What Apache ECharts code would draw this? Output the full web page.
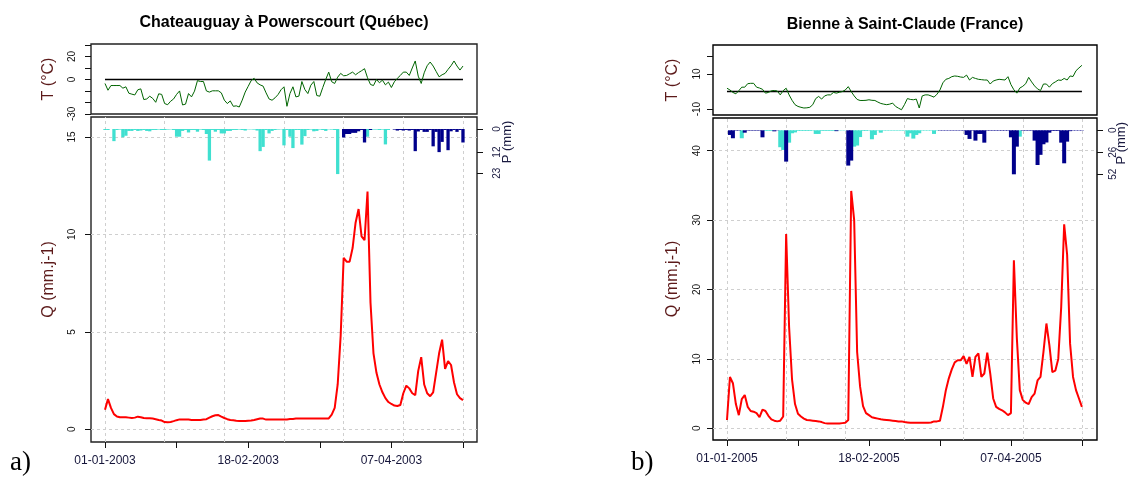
<!DOCTYPE html>
<html><head><meta charset="utf-8">
<script src="https://cdn.jsdelivr.net/npm/echarts@6/dist/echarts.min.js"></script>
<style>html,body{margin:0;padding:0;background:#fff}#c{width:1136px;height:482px}</style>
</head><body><div id="c"></div>
<script>
// ---------- DATA ----------
const titleA = 'Chateauguay à Powerscourt (Québec)';
const titleB = 'Bienne à Saint-Claude (France)';
const tickDays = [0, 24, 48, 72, 96, 120];
const gridDays = [0, 20, 40, 60, 80, 100, 120];
const labelDays = [0, 48, 96];
const dateLabelsA = ['01-01-2003', '18-02-2003', '07-04-2003'];
const dateLabelsB = ['01-01-2005', '18-02-2005', '07-04-2005'];
const tTicksA = [-30, -20, -10, 0, 10, 20, 30];
const tLabelsA = [-30, 0, 20];
const tTicksB = [-10, 10, 20];
const tLabelsB = [-10, 10];
const qTicksA = [0, 5, 10, 15];
const qTicksB = [0, 10, 20, 30, 40];
const pTicksA = [0, 12, 23];
const pTicksB = [0, 26, 52];

const tempA = [-3.5,-9.4,-5.3,-5.3,-5.3,-5.3,-7.6,-6.4,-12,-12.8,
 -13.5,-9,-8.2,-17.5,-17,-14.6,-16.5,-19.9,-12.5,-13,
 -21,-22,-19,-17,-13,-10,-22.2,-21.5,-12.3,-15.2,
 -10.2,-1,-1.8,-1.8,-10,-11,-9.9,-9.9,-9.9,-11.7,
 -18,-21,-18.7,-23.4,-23,-24,-18,-11,-6,-1,
 1,-3,-4.7,-5.8,-11.7,-17,-18.1,-16,-13.2,-9,
 -6.4,-23.4,-12.3,-6.4,-15.2,-14.5,-1.8,-8.8,-12.3,-5,
 -1.8,-14,-14.6,-7,0,6.4,-2,-3.5,2,5.3,
 3.2,3.5,5,6.4,4.1,6,7.6,9.4,1.5,-4.4,
 -5.3,0,-2.9,-0.6,-4.7,-2.3,-7,-2,1,3.5,
 6.4,6.4,3.5,10,16.1,2.9,-3.5,5.8,12,15.2,
 11.7,7,2.3,4.1,5.3,8.8,12,16.1,11.7,8.2,
 11.7];
const qA = [1.0,1.55,1.1,0.78,0.66,0.62,0.62,0.62,0.6,0.58,
 0.6,0.65,0.62,0.58,0.57,0.57,0.55,0.52,0.48,0.45,
 0.37,0.36,0.38,0.42,0.47,0.51,0.51,0.51,0.5,0.48,
 0.48,0.48,0.48,0.5,0.52,0.6,0.67,0.72,0.73,0.65,
 0.58,0.52,0.48,0.47,0.44,0.43,0.43,0.43,0.44,0.45,
 0.48,0.52,0.56,0.55,0.5,0.5,0.5,0.5,0.5,0.51,
 0.51,0.51,0.53,0.53,0.55,0.55,0.55,0.55,0.55,0.55,
 0.55,0.55,0.55,0.55,0.55,0.56,0.75,1.1,2.3,4.8,
 8.8,8.6,8.6,9.3,10.6,11.3,9.9,9.7,12.2,6.5,
 3.9,2.9,2.3,1.9,1.6,1.4,1.3,1.22,1.2,1.25,
 1.85,2.24,2.1,1.85,1.76,3.0,3.7,2.3,1.85,1.7,
 1.9,2.9,3.9,4.6,3.1,3.5,3.3,2.4,1.8,1.6,
 1.5];
const snowA = [0.5,0.5,0,6.3,0.5,0.3,4.3,3.5,1,1,
 0.5,1,0.8,0.5,1,1.2,0.5,0.5,0.3,0.5,
 0.5,0.3,0.2,0.5,4,4,1,0.5,1.8,0.5,
 0.5,1.4,0.3,0.5,2.6,16.4,0.5,1.4,0.5,2.3,
 2.3,1,1,0.5,0.5,0.3,0.5,0.8,0.2,0.2,
 0.3,0.8,11.5,9.3,0.5,2.3,1,0.5,0.3,0.2,
 8.5,0.5,4,9.9,0.5,0.5,8.1,3.7,0.5,0.3,
 1.2,1,0.3,0.5,1,0.2,0.3,0.5,23.4,0,
 0,0,0,0,0,0,0,0,4,0.5,
 0.3,0.3,0.5,0.3,8,0.5,0,0,0,0,
 0,0,0,0,0,0,0,0,0,0,
 0,0,0,0,0,0,0,0,0,0,
 0];
const rainA = [0,0,0,0,0,0,0,0,0,0,
 0,0,0,0,0,0,0,0,0,0,
 0,0,0,0,0,0,0,0,0,0,
 0,0,0,0,0,0,0,0,0,0,
 0,0,0,0,0,0,0,0,0,0,
 0,0,0,0,0,0,0,0,0,0,
 0,0,0,0,0,0,0,0,0,0,
 0,0,0,0,0,0,0,0,0,0,
 4.4,2.6,2.6,2,2,1.2,0.5,7,0,0.5,
 0,0,0,0,0,0,0,0.3,0.8,0.5,
 0.8,0.5,0.8,0.5,11.5,1.3,0.5,1.5,1.5,0.5,
 9,1.5,12,6.7,0.5,11,1.2,0.5,1.5,0.5,
 7];

const tempB = [1.9,0.9,-0.5,-1.3,0.5,2.5,2.5,4.5,4.7,4.7,
 2.5,2,1.3,-0.9,-0.5,0.4,0.6,0.3,-1.9,0.5,
 1.9,-1.9,-5,-7.5,-8.5,-9,-9.4,-9.3,-9,-7.5,
 -4,-2.8,-4.3,-2.5,-1.9,-1.9,-0.5,-0.9,-0.4,0,
 0.9,2.8,0,-2.5,-4.5,-5.1,-5.1,-5,-4.7,-5,
 -5.1,-6,-6.8,-7.2,-7.5,-7.2,-6.6,-8.5,-9.5,-10.4,
 -7.5,-4,-4.5,-4.7,-4.3,-9.4,-2.5,-1.9,-1.9,-2.5,
 -3.2,-1.5,0.9,5,7,7.5,8.5,8.9,8.7,8.3,
 8.1,9.4,6.6,8.1,7.5,7,6.8,6.6,6.6,4.3,
 6,6.6,7,6.8,6.6,8.5,4,1,-0.9,2,
 3,4.5,8.1,5.5,3.2,1.5,0.6,4.3,4.3,2.5,
 4.5,5.5,6.6,6.4,7.5,6.6,8.9,8.6,11.9,13.5,
 15];
const qB = [1.2,7.4,6.5,3.5,1.9,4.2,4.8,3.1,2.5,2.4,
 2.2,1.6,2.7,2.5,1.8,1.3,1.1,1.0,1.1,1.7,
 28,14.6,7,3.5,2.1,1.7,1.4,1.2,1.15,1.1,
 1.05,1.0,0.9,0.75,0.7,0.7,0.7,0.7,0.7,0.75,
 0.8,1.2,34.2,30,11,6,3.2,2.2,1.9,1.6,
 1.5,1.4,1.3,1.25,1.2,1.15,1.1,1.05,1.0,1.0,
 0.9,0.85,0.8,0.8,0.8,0.8,0.8,0.8,0.8,0.85,
 1.0,1.0,1.1,3.1,5.5,7.2,8.5,9.5,9.8,9.8,
 10.4,9.3,10.3,7.4,10.3,10.8,7.4,7.9,10.9,7.9,
 4.3,3.1,2.8,2.6,2.3,1.9,2.2,24.2,13,5.5,
 4.1,3.7,3.5,4.5,5,6.9,7.4,11,15.1,12,
 8.1,8.3,10,17.5,29.4,25,12.2,7.4,5.5,4.3,
 3.1];
const rainB = [0,5.5,9.4,0.5,0.5,0,2.8,0.5,0.5,0.5,
 0.5,0.5,8.3,0,0,0,1.2,0.3,0,0,
 37,0,0,0,0,0,0,0,0,0,
 0,0,0,0,0,0,0,1,0,0,
 0,41.7,35.8,0,0,0,0,0,0,0,
 0,0,0,0,0,0,0,0,0,0,
 0,0,0,0,0,0,0,0,0,0,
 0,0,0.4,0.4,0.4,0.4,0.4,0.4,0.4,0.4,
 0.5,5.5,10.2,0.5,12.2,4.3,4.3,14.6,0.5,0.5,
 0.5,0.5,0.5,0.5,0.5,0.5,8.3,52,19.3,0,
 0.5,0.5,0.5,0.5,12.2,41,29,16.5,14.4,2.8,
 0.8,0.8,0.8,14.6,39,13.4,1,0.4,0.4,0.4,
 0.4];
const snowB = [0,0,0,0,0,9.4,0,0,0,0,
 0,0,0,0.8,0.8,0.8,0,0,20,23.2,
 0,14.6,3.5,2.5,0.8,0.8,0.8,0.8,0.8,0.5,
 4.3,4.3,0.8,0.8,0.8,0.8,0.8,0.3,0.3,0.3,
 0.3,0,0,19.3,18,8,0.8,0.8,0.5,10.6,
 5.5,0.5,2.8,0.5,0.5,0.5,0.5,0.5,0.5,0.5,
 0.5,7.5,3.5,9.8,5.5,3.5,0.5,0.5,0.5,0.5,
 4.3,0.5,0,0,0,0,0,0,0,0,
 0,0,0,0,0,0,0,0,0,0,
 0,0,0,0,0,0,0,0,0,7.5,
 0,0,0,0,0,0,0,0,0,0,
 0,0,0,0,0,0,0,0,0,0,
 0];

// ---------- BUILD ----------
const FONT = '"Liberation Sans", Arial, sans-serif';
const zip = arr => arr.map((v, i) => [i, v]);

const panels = [
  { title: titleA, titleX: 279, titleY: 10, letter: 'a)', letterX: 10,
    left: 91, width: 386, tTop: 44, tH: 70, qTop: 117, qH: 325, pTop: 129, pH: 44.3,
    xMin: -4.69, xMax: 124.7, tMin: -30.1, tMax: 30.9, tTicks: tTicksA, tLabels: tLabelsA,
    qMin: -0.65, qMax: 16.02, qTicks: qTicksA, pMax: 23, pTicks: pTicksA,
    temp: tempA, q: qA, rain: rainA, snow: snowA, dates: dateLabelsA, barW: 3.3,
    lblMargin: 14, nameGap: 34, pLblMargin: 15, pNameX: 507, border: '#222' },
  { title: titleB, titleX: 900, titleY: 12, letter: 'b)', letterX: 631,
    left: 713, width: 384, tTop: 45, tH: 70, qTop: 118, qH: 322, pTop: 130.3, pH: 44,
    xMin: -4.73, xMax: 125.1, tMin: -13.4, tMax: 26.6, tTicks: tTicksB, tLabels: tLabelsB,
    qMin: -1.68, qMax: 44.7, qTicks: qTicksB, pMax: 52, pTicks: pTicksB,
    temp: tempB, q: qB, rain: rainB, snow: snowB, dates: dateLabelsB, barW: 4,
    lblMargin: 11, nameGap: 32, pLblMargin: 11, pNameX: 1121, border: '#000' }
];

const grid = [], xAxis = [], yAxis = [], series = [], title = [], graphic = [];
const tickCommon = { show: true, inside: false, length: 6, lineStyle: { color: '#111', width: 1 } };
const lblCommon = { rotate: 90, fontSize: 10, fontFamily: FONT, color: '#111' };
const nameStyle = { fontSize: 16, fontFamily: FONT, color: '#5c1a1a' };
const noLine = { show: false, onZero: false };

panels.forEach((p, k) => {
  const g0 = k * 3;
  grid.push({ left: p.left, top: p.tTop, width: p.width, height: p.tH, show: true,
              borderColor: p.border, borderWidth: 1.4, backgroundColor: 'transparent' });
  grid.push({ left: p.left, top: p.qTop, width: p.width, height: p.qH, show: true,
              borderColor: p.border, borderWidth: 1.4, backgroundColor: 'transparent' });
  grid.push({ left: p.left, top: p.pTop, width: p.width, height: p.pH, show: false });

  // T panel axes
  xAxis.push({ gridIndex: g0, type: 'value', min: p.xMin, max: p.xMax, show: false, axisLine: noLine });
  yAxis.push({ gridIndex: g0, type: 'value', position: 'left', min: p.tMin, max: p.tMax,
    axisLine: noLine, splitLine: { show: false },
    axisTick: Object.assign({ customValues: p.tTicks }, tickCommon),
    axisLabel: Object.assign({ customValues: p.tLabels, margin: p.lblMargin }, lblCommon),
    name: 'T (°C)', nameLocation: 'middle', nameRotate: 90, nameGap: p.nameGap, nameTextStyle: nameStyle });
  // Q panel axes
  xAxis.push({ gridIndex: g0 + 1, type: 'value', position: 'bottom', min: p.xMin, max: p.xMax,
    axisLine: noLine, splitLine: { show: false },
    axisTick: Object.assign({ customValues: tickDays }, tickCommon),
    axisLabel: { customValues: labelDays, fontSize: 12, fontFamily: FONT, color: '#15153a', margin: 13,
      formatter: v => p.dates[labelDays.indexOf(v)] } });
  yAxis.push({ gridIndex: g0 + 1, type: 'value', position: 'left', min: p.qMin, max: p.qMax,
    axisLine: noLine, splitLine: { show: false },
    axisTick: Object.assign({ customValues: p.qTicks }, tickCommon),
    axisLabel: Object.assign({ customValues: p.qTicks, margin: p.lblMargin }, lblCommon),
    name: 'Q (mm.j-1)', nameLocation: 'middle', nameRotate: 90, nameGap: p.nameGap, nameTextStyle: nameStyle });
  // Precip axes
  xAxis.push({ gridIndex: g0 + 2, type: 'value', min: p.xMin, max: p.xMax, show: false, axisLine: noLine });
  yAxis.push({ gridIndex: g0 + 2, type: 'value', position: 'right', inverse: true, min: 0, max: p.pMax,
    axisLine: noLine, splitLine: { show: false },
    axisTick: Object.assign({ customValues: p.pTicks }, tickCommon),
    axisLabel: Object.assign({ customValues: p.pTicks, margin: p.pLblMargin }, lblCommon, { color: '#1a1a40' }) });

  series.push({ type: 'line', xAxisIndex: g0, yAxisIndex: g0, data: zip(p.temp), showSymbol: false,
    lineStyle: { color: '#006400', width: 1 }, itemStyle: { color: '#006400' }, silent: true, z: 3,
    markLine: { silent: true, symbol: ['none', 'none'], label: { show: false }, z: 2,
      lineStyle: { color: '#000', width: 1.3, type: 'solid' },
      data: [[{ coord: [0, 0] }, { coord: [p.temp.length - 1, 0] }]] } });

  series.push({ type: 'line', xAxisIndex: g0 + 1, yAxisIndex: g0 + 1, data: zip(p.q), showSymbol: false,
    lineStyle: { color: '#ff0000', width: 2 }, itemStyle: { color: '#ff0000' }, silent: true, z: 4,
    markLine: { silent: true, symbol: ['none', 'none'], label: { show: false }, z: 1,
      lineStyle: { color: '#cfcfcf', width: 1, type: [3, 3] },
      data: gridDays.map(d => ({ xAxis: d })).concat(p.qTicks.map(v => ({ yAxis: v }))) } });

  series.push({ type: 'bar', xAxisIndex: g0 + 2, yAxisIndex: g0 + 2, data: zip(p.snow), barWidth: p.barW,
    barGap: '-100%', clip: false, silent: true, itemStyle: { color: '#40E0D0' }, z: 3 });
  series.push({ type: 'bar', xAxisIndex: g0 + 2, yAxisIndex: g0 + 2, data: zip(p.rain), barWidth: p.barW,
    barGap: '-100%', clip: false, silent: true, itemStyle: { color: '#00008B' }, z: 3 });

  title.push({ text: p.title, left: p.titleX, top: p.titleY, textAlign: 'center',
    textStyle: { fontSize: 16, fontWeight: 'bold', fontFamily: FONT, color: '#000' } });

  graphic.push({ type: 'text', x: p.pNameX, y: p.pTop + 13, rotation: Math.PI / 2,
    style: { text: 'P (mm)', fontSize: 13, fontFamily: FONT, fill: '#1a1a40', textAlign: 'center', textVerticalAlign: 'middle' } });
  graphic.push({ type: 'text', x: p.letterX, y: 449,
    style: { text: p.letter, fontSize: 27, fontFamily: '"Liberation Serif", "Times New Roman", serif', fill: '#000', textAlign: 'left', textVerticalAlign: 'top' } });
});

const chart = echarts.init(document.getElementById('c'), null, { renderer: 'canvas' });
chart.setOption({ animation: false, backgroundColor: '#fff', title, grid, xAxis, yAxis, series, graphic });
</script></body></html>
